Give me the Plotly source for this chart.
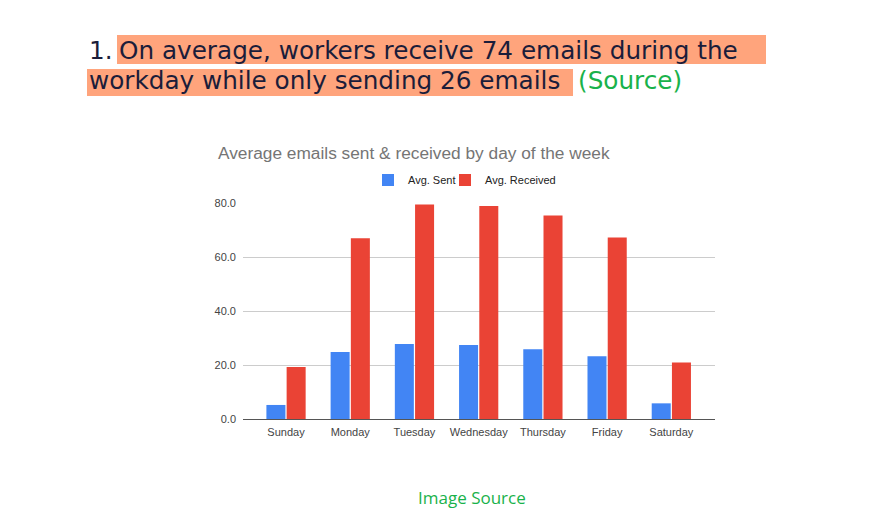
import plotly.graph_objects as go

days = ["Sunday", "Monday", "Tuesday", "Wednesday", "Thursday", "Friday", "Saturday"]
avg_sent = [5.2, 24.8, 27.8, 27.4, 25.8, 23.2, 5.8]
avg_received = [19.3, 66.9, 79.4, 78.9, 75.4, 67.2, 20.9]
y_ticks = [0, 20, 40, 60, 80]
y_tick_labels = ["0.0", "20.0", "40.0", "60.0", "80.0"]

W, H = 890, 529
L, R, T, B = 243, 715, 203, 419  # plot area pixels


def px(x):
    return (x - L) / (R - L)


def py(y):
    return (B - y) / (B - T)


fig = go.Figure()
fig.add_trace(go.Bar(x=days, y=avg_sent, name="Avg. Sent", marker_color="#4285f4",
                     marker_line_width=0, legend="legend"))
fig.add_trace(go.Bar(x=days, y=avg_received, name="Avg. Received", marker_color="#ea4335",
                     marker_line_width=0, legend="legend2"))

shapes = [
    dict(type="rect", xref="paper", yref="paper", x0=px(117), x1=px(766), y0=py(64), y1=py(35),
         fillcolor="#ffa47c", line_width=0, layer="below"),
    dict(type="rect", xref="paper", yref="paper", x0=px(87), x1=px(573), y0=py(96), y1=py(69),
         fillcolor="#ffa47c", line_width=0, layer="below"),
]

hdr_font = dict(family="'DejaVu Sans', 'Open Sans', sans-serif", size=24.7, color="#1b1d3a")
annotations = [
    dict(text="1.", x=px(87), y=py(50), xref="paper", yref="paper", xanchor="left",
         yanchor="middle", showarrow=False, font=hdr_font),
    dict(text="On average, workers receive 74 emails during the", x=px(117), y=py(50),
         xref="paper", yref="paper", xanchor="left", yanchor="middle", showarrow=False,
         font=hdr_font),
    dict(text="workday while only sending 26 emails", x=px(87), y=py(81), xref="paper",
         yref="paper", xanchor="left", yanchor="middle", showarrow=False, font=hdr_font),
    dict(text="(Source)", x=px(576), y=py(81), xref="paper", yref="paper", xanchor="left",
         yanchor="middle", showarrow=False, font=dict(hdr_font, color="#19b24b")),
    dict(text="Average emails sent &amp; received by day of the week", x=px(216), y=py(153),
         xref="paper", yref="paper", xanchor="left", yanchor="middle", showarrow=False,
         font=dict(family="Arial, 'Liberation Sans', sans-serif", size=17.3, color="#757575")),
    dict(text="Image Source", x=px(472), y=py(497), xref="paper", yref="paper",
         xanchor="center", yanchor="middle", showarrow=False,
         font=dict(family="'Open Sans', Lato, sans-serif", size=17, color="#19b24b")),
]

leg_common = dict(orientation="h", yanchor="middle", xanchor="left",
                  font=dict(size=11, color="#222222"), itemwidth=30,
                  bgcolor="rgba(0,0,0,0)")

fig.update_layout(
    width=W, height=H,
    margin=dict(l=L, r=W - R, t=T, b=H - B, pad=0),
    paper_bgcolor="white", plot_bgcolor="white",
    barmode="group", bargap=0.37, bargroupgap=0.06,
    font=dict(family="Arial, 'Liberation Sans', sans-serif", size=11, color="#222222"),
    showlegend=True,
    legend=dict(leg_common, x=px(368), y=py(180)),
    legend2=dict(leg_common, x=px(445), y=py(180)),
    shapes=shapes,
    annotations=annotations,
    xaxis=dict(type="category", range=[-0.67, 6.68], showgrid=False, zeroline=False,
               showline=False, ticks="", ticklabelstandoff=5,
               tickfont=dict(size=11, color="#444444")),
    yaxis=dict(range=[0, 80], tickvals=y_ticks, ticktext=y_tick_labels, showgrid=True,
               gridcolor="#cccccc", gridwidth=1, zeroline=True, zerolinecolor="#555555",
               zerolinewidth=1.3, showline=False, ticks="", ticklabelstandoff=6,
               tickfont=dict(size=11, color="#444444")),
)

fig.write_html("out.html")
